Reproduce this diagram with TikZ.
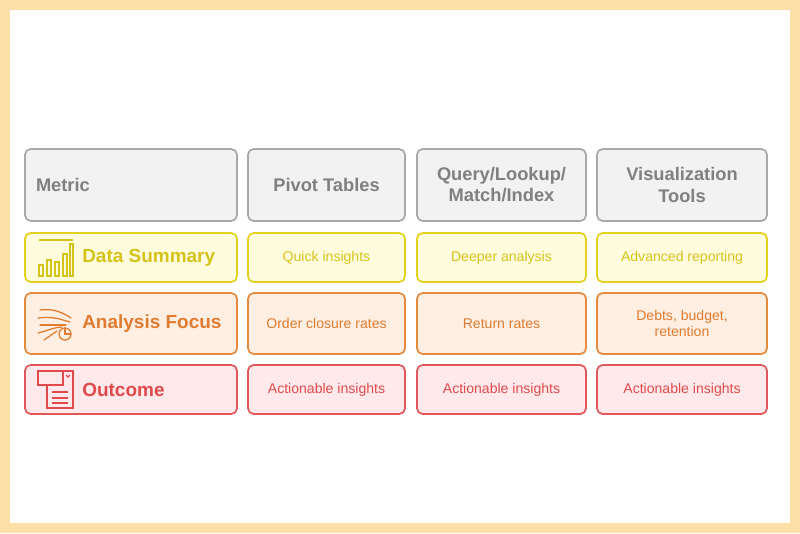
\documentclass[tikz,border=0pt]{standalone}
\usepackage{fontspec}
\setmainfont{Liberation Sans}
\usetikzlibrary{positioning}
\definecolor{peach}{HTML}{FDDFA8}
\definecolor{hdline}{HTML}{A8A8A8}
\definecolor{hdfill}{HTML}{F2F2F2}
\definecolor{hdtext}{HTML}{808080}
\definecolor{yline}{HTML}{E3D01F}
\definecolor{yfill}{HTML}{FEFCDD}
\definecolor{ytext}{HTML}{D6C31A}
\definecolor{oline}{HTML}{E68B3E}
\definecolor{ofill}{HTML}{FFEFE3}
\definecolor{otext}{HTML}{E07B2F}
\definecolor{rline}{HTML}{E25759}
\definecolor{rfill}{HTML}{FFE9EB}
\definecolor{rtext}{HTML}{E04A4C}
\tikzset{
  cell/.style={draw,rounded corners=4pt,line width=1.2pt,align=center,inner sep=2pt},
  hdcell/.style={cell,draw=hdline,fill=hdfill,text=hdtext,font=\fontsize{13}{15}\selectfont\bfseries},
  ycell/.style={cell,draw=yline,fill=yfill,text=ytext,font=\fontsize{10}{12}\selectfont},
  ocell/.style={cell,draw=oline,fill=ofill,text=otext,font=\fontsize{10}{12}\selectfont},
  rcell/.style={cell,draw=rline,fill=rfill,text=rtext,font=\fontsize{10}{12}\selectfont},
  rowlab/.style={anchor=west,font=\fontsize{13.5}{15}\selectfont\bfseries,inner sep=0}
}
\begin{document}
\begin{tikzpicture}[x=0.025cm,y=-0.025cm]
  \fill[peach] (0,0) rectangle (800,533);
  \fill[white] (10,10) rectangle (790,523);
  % header row
  \node[hdcell,minimum width=212*0.025cm,minimum height=72*0.025cm,text width=190*0.025cm,align=left] (hm) at (131,185) {Metric};
  \node[hdcell,minimum width=157*0.025cm,minimum height=72*0.025cm] (h1) at (326.5,185) {Pivot Tables};
  \node[hdcell,minimum width=169*0.025cm,minimum height=72*0.025cm] (h2) at (501.5,185) {Query/Lookup/\\Match/Index};
  \node[hdcell,minimum width=170*0.025cm,minimum height=72*0.025cm] (h3) at (682,185) {Visualization\\Tools};
  % data summary row
  \node[ycell,minimum width=212*0.025cm,minimum height=49*0.025cm] (ym) at (131,257.5) {};
  \node[ycell,minimum width=157*0.025cm,minimum height=49*0.025cm] (y1) at (326.5,257.5) {Quick insights};
  \node[ycell,minimum width=169*0.025cm,minimum height=49*0.025cm] (y2) at (501.5,257.5) {Deeper analysis};
  \node[ycell,minimum width=170*0.025cm,minimum height=49*0.025cm] (y3) at (682,257.5) {Advanced reporting};
  \node[rowlab,text=ytext] (yl) at (82,257.5) {Data Summary};
  % analysis focus row
  \node[ocell,minimum width=212*0.025cm,minimum height=61*0.025cm] (om) at (131,323.5) {};
  \node[ocell,minimum width=157*0.025cm,minimum height=61*0.025cm] (o1) at (326.5,323.5) {Order closure rates};
  \node[ocell,minimum width=169*0.025cm,minimum height=61*0.025cm] (o2) at (501.5,323.5) {Return rates};
  \node[ocell,minimum width=170*0.025cm,minimum height=61*0.025cm] (o3) at (682,323.5) {Debts, budget,\\retention};
  \node[rowlab,text=otext] (ol) at (82,323.5) {Analysis Focus};
  % outcome row
  \node[rcell,minimum width=212*0.025cm,minimum height=49*0.025cm] (rm) at (131,389.5) {};
  \node[rcell,minimum width=157*0.025cm,minimum height=49*0.025cm] (r1) at (326.5,389.5) {Actionable insights};
  \node[rcell,minimum width=169*0.025cm,minimum height=49*0.025cm] (r2) at (501.5,389.5) {Actionable insights};
  \node[rcell,minimum width=170*0.025cm,minimum height=49*0.025cm] (r3) at (682,389.5) {Actionable insights};
  \node[rowlab,text=rtext] (rl) at (82,389.5) {Outcome};
  % icons
  \begin{scope}[draw=ytext,line width=0.9pt]
    \draw (39,240) -- (73,240);
    \draw (39,265) rectangle (43,276) (47,260) rectangle (51,276) (55,262) rectangle (59,276)
          (63,254) rectangle (67,276) (70,244) rectangle (73,276);
  \end{scope}
  \begin{scope}[draw=otext,line width=0.9pt,line cap=round]
    \draw (40,310) .. controls (55,308) and (65,314) .. (71,318);
    \draw (38,318) .. controls (55,316) and (62,320) .. (70,322);
    \draw (40,325) -- (66,325);
    \draw (38,333) .. controls (50,330) and (55,327) .. (62,327);
    \draw (44,340) .. controls (50,335) .. (57,331);
    \draw (65,334) circle (6);
    \draw (65,328) -- (65,334) -- (71,334);
  \end{scope}
  \begin{scope}[draw=rtext,line width=0.9pt]
    \draw (38,371) rectangle (63,385);
    \draw (47,385) -- (47,408) -- (73,408) -- (73,371) -- (63,371);
    \draw (66,375) -- (68,377) -- (70,375);
    \draw (52,392) -- (68,392) (52,398) -- (68,398) (52,403) -- (68,403);
  \end{scope}
\end{tikzpicture}
\end{document}
